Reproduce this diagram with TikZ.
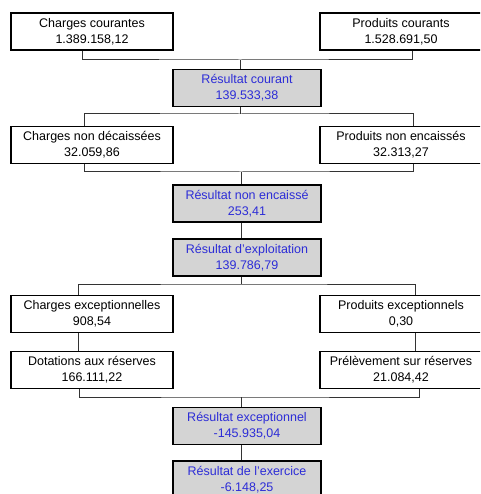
\documentclass[tikz,border=0pt]{standalone}
\usepackage{fontspec}
\setmainfont{Liberation Sans}
\usepackage{xcolor}
\definecolor{bleu}{RGB}{45,45,215}
\definecolor{gris}{RGB}{212,212,212}

\begin{document}
\begin{tikzpicture}[x=1pt, y=-1pt,
    poste/.style={draw, line width=1.1pt, fill=white, align=center,
        minimum width=162pt, minimum height=37pt, inner sep=0pt,
        font=\fontsize{12.5}{16}\selectfont},
    solde/.style={poste, fill=gris, text=bleu, minimum width=148pt},
    trait/.style={line width=1pt, draw=black!80}]
    \useasboundingbox (0,0) rectangle (480,494);
    \clip (0,0) rectangle (480,494);

    % postes et soldes
    \node[poste] (cc) at (92,31.5) {Charges courantes\\1.389.158,12};
    \node[poste] (pc) at (401,31.5) {Produits courants\\1.528.691,50};
    \node[solde] (rc) at (247,88) {Résultat courant\\139.533,38};
    \node[poste] (cn) at (92,145) {Charges non décaissées\\32.059,86};
    \node[poste] (pn) at (401,145) {Produits non encaissés\\32.313,27};
    \node[solde] (rne) at (247,203.5) {Résultat non encaissé\\253,41};
    \node[solde] (re) at (247,257.5) {Résultat d'exploitation\\139.786,79};
    \node[poste] (ce) at (92,314) {Charges exceptionnelles\\908,54};
    \node[poste] (pe) at (401,314) {Produits exceptionnels\\0,30};
    \node[poste] (dr) at (92,370) {Dotations aux réserves\\166.111,22};
    \node[poste] (pr) at (401,370) {Prélèvement sur réserves\\21.084,42};
    \node[solde] (rex) at (247,426) {Résultat exceptionnel\\-145.935,04};
    \node[solde] (rexe) at (247,479.5) {Résultat de l'exercice\\-6.148,25};

    % jonctions
    \coordinate (j1) at (240,60);
    \coordinate (j2) at (240,114);
    \coordinate (j3) at (241,172);
    \coordinate (j4) at (241,284);
    \coordinate (j5) at (241,397);

    \draw[trait] ([xshift=-10pt]cc.south) |- (j1) -| ([xshift=11pt]pc.south);
    \draw[trait] (j1) -- (j1 |- rc.north);
    \draw[trait] (rc.south -| j2) -- (j2);
    \draw[trait] ([xshift=-8pt]cn.north) |- (j2) -| ([xshift=12pt]pn.north);
    \draw[trait] ([xshift=-8pt]cn.south) |- (j3) -| ([xshift=12pt]pn.south);
    \draw[trait] (j3) -- (j3 |- rne.north);
    \draw[trait] (rne.south -| j3) -- (re.north -| j3);
    \draw[trait] (re.south -| j4) -- (j4);
    \draw[trait] ([xshift=-14pt]ce.north) |- (j4) -| ([xshift=14pt]pe.north);
    \draw[trait] ([xshift=-14pt]ce.south) -- ([xshift=-14pt]dr.north);
    \draw[trait] ([xshift=14pt]pe.south) -- ([xshift=14pt]pr.north);
    \draw[trait] ([xshift=-13pt]dr.south) |- (j5) -| ([xshift=18pt]pr.south);
    \draw[trait] (j5) -- (j5 |- rex.north);
    \draw[trait] (rex.south -| j5) -- (rexe.north -| j5);
\end{tikzpicture}
\end{document}
